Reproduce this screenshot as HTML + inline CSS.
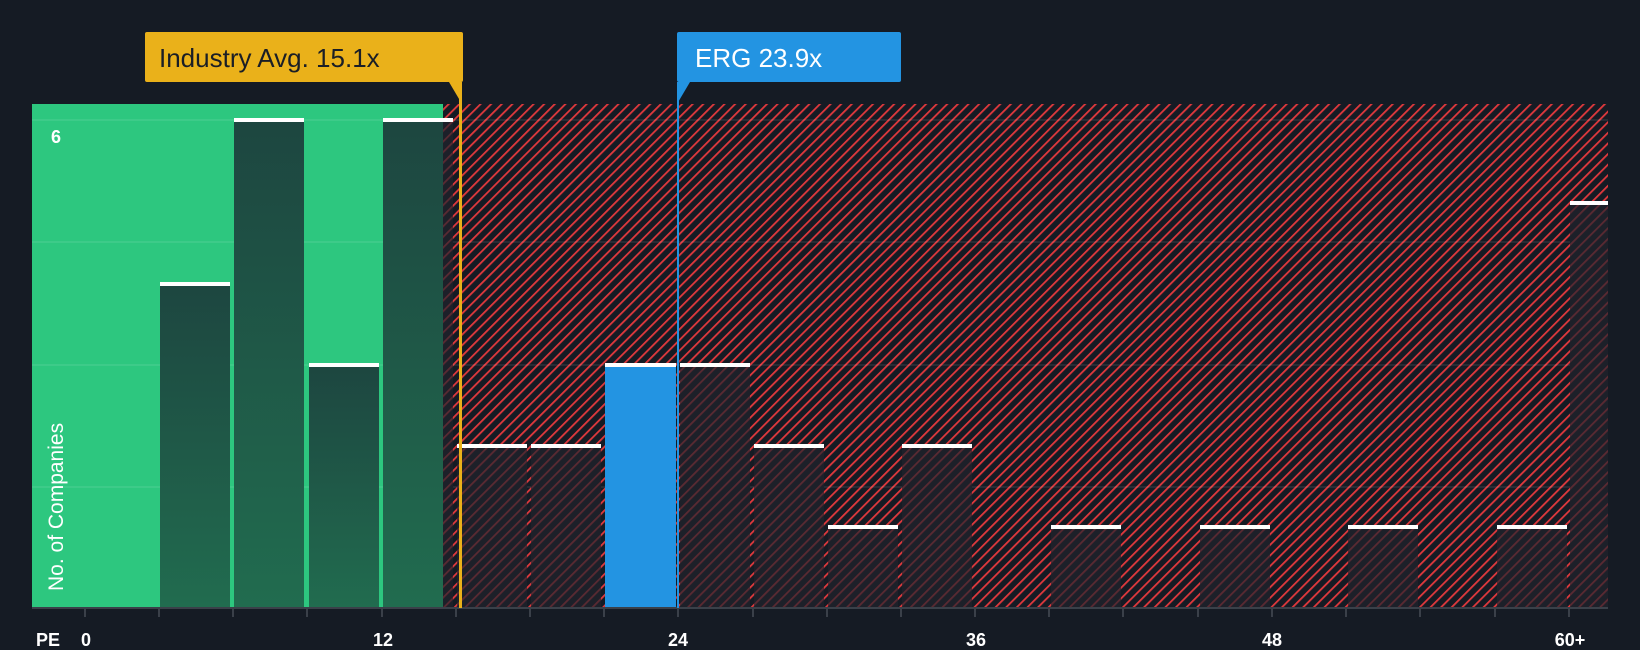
<!DOCTYPE html>
<html><head><meta charset="utf-8"><style>
html,body{margin:0;padding:0;background:#151b24;}
svg{display:block;}
text{font-family:"Liberation Sans",sans-serif;}
</style></head><body>
<svg width="1640" height="650" viewBox="0 0 1640 650" xmlns="http://www.w3.org/2000/svg">
<defs>
<pattern id="h" patternUnits="userSpaceOnUse" width="7.5" height="10" patternTransform="rotate(45)">
<rect width="7.5" height="10" fill="#151b24"/>
<rect x="0" y="0" width="1.8" height="10" fill="#e0393d"/>
</pattern>
<pattern id="h2" patternUnits="userSpaceOnUse" width="7.5" height="10" patternTransform="rotate(45)">
<rect width="7.5" height="10" fill="#1d2029"/>
<rect x="0" y="0" width="1.8" height="10" fill="#5a2a32"/>
</pattern>
<linearGradient id="gb" x1="0" y1="0" x2="0" y2="1">
<stop offset="0" stop-color="#1d4640"/><stop offset="1" stop-color="#216c4f"/>
</linearGradient>
</defs>
<rect width="1640" height="650" fill="#151b24"/>
<rect x="32" y="104" width="411" height="504" fill="#2dc77f"/>
<rect x="443" y="104" width="1165" height="504" fill="url(#h)"/>
<g stroke="#ffffff" stroke-opacity="0.08" stroke-width="2">
<line x1="32" y1="120" x2="1608" y2="120"/>
<line x1="32" y1="242" x2="1608" y2="242"/>
<line x1="32" y1="365" x2="1608" y2="365"/>
<line x1="32" y1="487" x2="1608" y2="487"/>
</g>
<g fill="url(#gb)">
<rect x="160" y="284" width="70" height="324"/>
<rect x="234" y="120" width="70" height="488"/>
<rect x="309" y="365" width="70" height="243"/>
<rect x="383" y="120" width="60" height="488"/>
</g>
<rect x="443" y="120" width="10" height="488" fill="url(#h2)"/>
<g fill="url(#h2)">
<rect x="457" y="446" width="70" height="162"/>
<rect x="531" y="446" width="70" height="162"/>
<rect x="680" y="365" width="70" height="243"/>
<rect x="754" y="446" width="70" height="162"/>
<rect x="828" y="527" width="70" height="81"/>
<rect x="902" y="446" width="70" height="162"/>
<rect x="1051" y="527" width="70" height="81"/>
<rect x="1200" y="527" width="70" height="81"/>
<rect x="1348" y="527" width="70" height="81"/>
<rect x="1497" y="527" width="70" height="81"/>
<rect x="1570" y="203" width="38" height="405"/>
</g>
<rect x="605" y="365" width="71" height="243" fill="#2394e2"/>
<g fill="#ffffff">
<rect x="160" y="282" width="70" height="4"/>
<rect x="234" y="118" width="70" height="4"/>
<rect x="309" y="363" width="70" height="4"/>
<rect x="383" y="118" width="70" height="4"/>
<rect x="457" y="444" width="70" height="4"/>
<rect x="531" y="444" width="70" height="4"/>
<rect x="605" y="363" width="71" height="4"/>
<rect x="680" y="363" width="70" height="4"/>
<rect x="754" y="444" width="70" height="4"/>
<rect x="828" y="525" width="70" height="4"/>
<rect x="902" y="444" width="70" height="4"/>
<rect x="1051" y="525" width="70" height="4"/>
<rect x="1200" y="525" width="70" height="4"/>
<rect x="1348" y="525" width="70" height="4"/>
<rect x="1497" y="525" width="70" height="4"/>
<rect x="1570" y="201" width="38" height="4"/>
</g>
<rect x="32" y="607" width="1576" height="2" fill="#3a4049"/>
<g stroke="#3a4049" stroke-width="2">
<line x1="85" y1="608" x2="85" y2="617"/><line x1="159" y1="608" x2="159" y2="617"/>
<line x1="233" y1="608" x2="233" y2="617"/><line x1="307" y1="608" x2="307" y2="617"/>
<line x1="382" y1="608" x2="382" y2="617"/><line x1="456" y1="608" x2="456" y2="617"/>
<line x1="530" y1="608" x2="530" y2="617"/><line x1="604" y1="608" x2="604" y2="617"/>
<line x1="678" y1="608" x2="678" y2="617"/><line x1="753" y1="608" x2="753" y2="617"/>
<line x1="827" y1="608" x2="827" y2="617"/><line x1="901" y1="608" x2="901" y2="617"/>
<line x1="975" y1="608" x2="975" y2="617"/><line x1="1049" y1="608" x2="1049" y2="617"/>
<line x1="1123" y1="608" x2="1123" y2="617"/><line x1="1198" y1="608" x2="1198" y2="617"/>
<line x1="1272" y1="608" x2="1272" y2="617"/><line x1="1346" y1="608" x2="1346" y2="617"/>
<line x1="1420" y1="608" x2="1420" y2="617"/><line x1="1495" y1="608" x2="1495" y2="617"/>
<line x1="1569" y1="608" x2="1569" y2="617"/>
</g>
<g fill="#ffffff" font-size="18" font-weight="bold" text-anchor="middle">
<text x="48" y="646">PE</text>
<text x="86" y="646">0</text>
<text x="383" y="646">12</text>
<text x="678" y="646">24</text>
<text x="976" y="646">36</text>
<text x="1272" y="646">48</text>
<text x="1570" y="646">60+</text>
</g>
<text x="56" y="143" fill="#ffffff" font-size="18" font-weight="bold" text-anchor="middle">6</text>
<text transform="translate(63,591) rotate(-90)" fill="#ffffff" font-size="21">No. of Companies</text>
<rect x="459" y="82" width="3" height="526" fill="#eab11a"/>
<rect x="677" y="82" width="2" height="526" fill="#2394e2"/>
<rect x="145" y="32" width="318" height="50" rx="2" fill="#eab11a"/>
<polygon points="449,82 462,82 462,104" fill="#eab11a"/>
<text x="159" y="67" fill="#1a1e26" font-size="26">Industry Avg. 15.1x</text>
<rect x="677" y="32" width="224" height="50" rx="2" fill="#2394e2"/>
<polygon points="677,82 690,82 677,104" fill="#2394e2"/>
<text x="695" y="67" fill="#ffffff" font-size="26">ERG 23.9x</text>
</svg>
</body></html>
